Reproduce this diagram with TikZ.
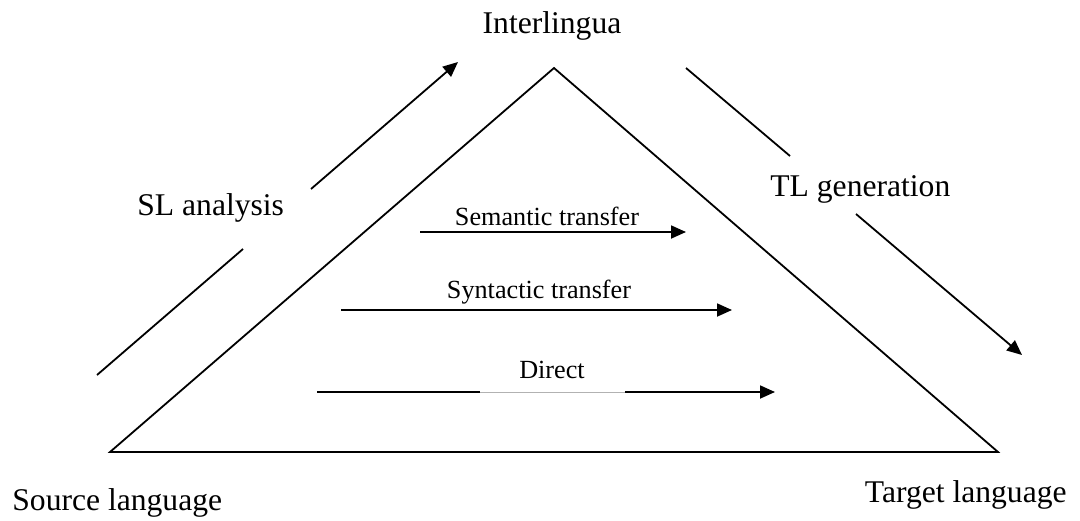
\documentclass[tikz,border=0pt]{standalone}
\usepackage{fontspec}
\setmainfont{Liberation Serif}
\usetikzlibrary{arrows.meta}
\begin{document}
\begin{tikzpicture}[x=0.5pt,y=-0.5pt,
  edge/.style={line width=0.9pt,line cap=butt},
  flow/.style={edge,-{Triangle[length=7.5pt,width=6.5pt]}},
  biglabel/.style={inner sep=0pt,font=\fontsize{15.8}{18}\selectfont},
  smalllabel/.style={inner sep=0pt,font=\fontsize{13.1}{15}\selectfont}]
  \useasboundingbox (0,0) rectangle (1080,520);

  % triangle corners
  \coordinate (apex) at (554,68);
  \coordinate (sl) at (110,452);
  \coordinate (tl) at (998,452);
  \draw[edge,line join=miter] (sl) -- (apex) -- (tl) -- cycle;

  % corner labels
  \node[biglabel,anchor=base] (inter) at (552,33) {Interlingua};
  \node[biglabel,anchor=base west] (src) at (12,510) {Source language};
  \node[biglabel,anchor=base east] (tgt) at (1067,502) {Target language};

  % analysis arrow, broken around its label
  \node[biglabel,anchor=base west] (ana) at (137,215) {SL analysis};
  \coordinate (ana1) at (97,375);
  \coordinate (ana2) at (243,249);
  \coordinate (ana3) at (311,189);
  \coordinate (ana4) at (458,62);
  \draw[edge] (ana1) -- (ana2);
  \draw[flow] (ana3) -- (ana4);

  % generation arrow, broken around its label
  \node[biglabel,anchor=base west] (gen) at (770,196) {TL generation};
  \coordinate (gen1) at (686,68);
  \coordinate (gen2) at (790,156);
  \coordinate (gen3) at (856,214);
  \coordinate (gen4) at (1022,355);
  \draw[edge] (gen1) -- (gen2);
  \draw[flow] (gen3) -- (gen4);

  % transfer levels
  \node[smalllabel,anchor=base] (sem) at (547,225) {Semantic transfer};
  \coordinate (sem1) at (420,232);
  \coordinate (sem2) at (686,232);
  \draw[flow] (sem1) -- (sem2);

  \node[smalllabel,anchor=base] (syn) at (539,298) {Syntactic transfer};
  \coordinate (syn1) at (341,310);
  \coordinate (syn2) at (732,310);
  \draw[flow] (syn1) -- (syn2);

  \node[smalllabel,anchor=base] (dir) at (552,378) {Direct};
  \coordinate (dir1) at (317,392);
  \coordinate (dir2) at (480,392);
  \coordinate (dir3) at (625,392);
  \coordinate (dir4) at (775,392);
  \draw[edge] (dir1) -- (dir2);
  \draw[line width=0.4pt,black!30] (dir2) -- (dir3);
  \draw[flow] (dir3) -- (dir4);
\end{tikzpicture}
\end{document}
